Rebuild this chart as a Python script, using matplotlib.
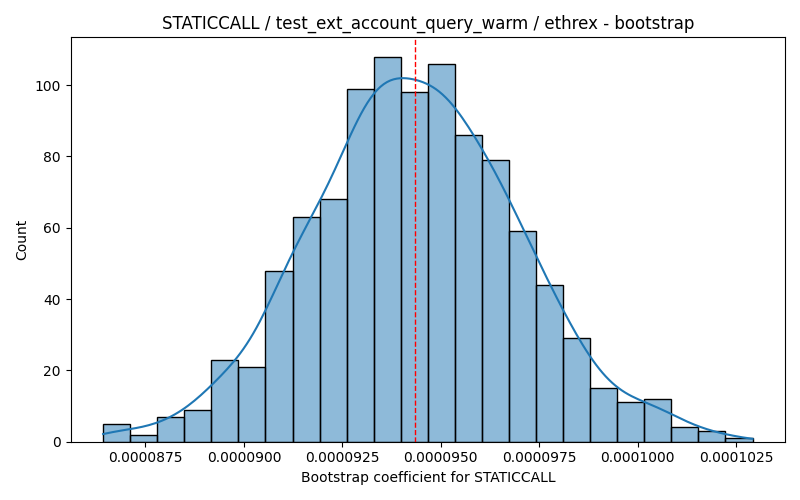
import numpy as np
import matplotlib
matplotlib.use("Agg")
import matplotlib.pyplot as plt
import seaborn as sns
from matplotlib.ticker import FormatStrFormatter

# bootstrap histogram (1000 resamples, 24 bins)
bin_lo = 8.6424e-5
bin_hi = 1.02921e-4
counts = [5, 2, 7, 9, 23, 21, 48, 63, 68, 99, 108, 98,
          106, 86, 79, 59, 44, 29, 15, 11, 12, 4, 3, 1]
point_estimate = 9.434e-5

title = "STATICCALL / test_ext_account_query_warm / ethrex - bootstrap"
xlabel = "Bootstrap coefficient for STATICCALL"

edges = np.linspace(bin_lo, bin_hi, len(counts) + 1)
centers = (edges[:-1] + edges[1:]) / 2
samples = np.repeat(centers, counts)

fig, ax = plt.subplots(figsize=(8, 5), dpi=100)
sns.histplot(x=samples, bins=edges, ax=ax, color="C0", alpha=0.5)

# gaussian kde (scott), scaled to counts like seaborn does
n = len(samples)
bw = samples.std(ddof=1) * n ** (-1 / 5) * 1.03
grid = np.linspace(bin_lo, bin_hi, 200)
dens = np.exp(-0.5 * ((grid[:, None] - samples[None, :]) / bw) ** 2).sum(axis=1)
dens /= n * bw * np.sqrt(2 * np.pi)
ax.plot(grid, dens * n * (edges[1] - edges[0]), color="C0", lw=1.5)

ax.axvline(point_estimate, color="red", linestyle="--", linewidth=1)

ax.xaxis.set_major_formatter(FormatStrFormatter("%.7f"))
ax.set_title(title)
ax.set_xlabel(xlabel)
ax.set_ylabel("Count")

plt.tight_layout()
plt.savefig("out.png", dpi=100)
